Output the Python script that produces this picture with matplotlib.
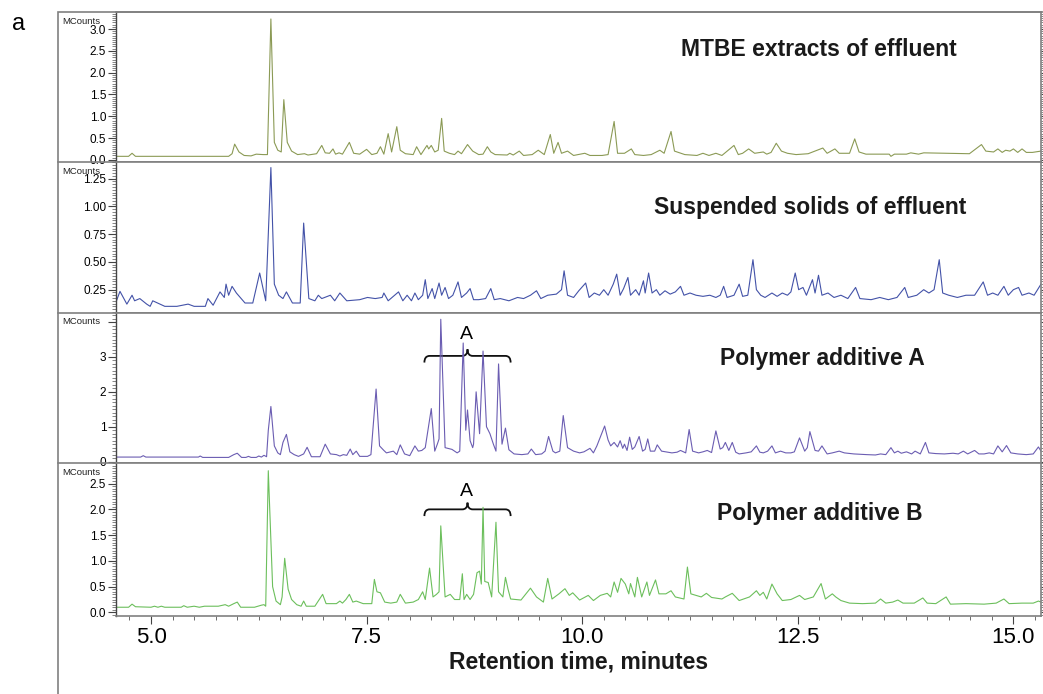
import matplotlib
matplotlib.use("Agg")
import matplotlib.pyplot as plt
from matplotlib import font_manager
from matplotlib.path import Path
from matplotlib.patches import PathPatch, Rectangle
from matplotlib.lines import Line2D
from matplotlib.ticker import MultipleLocator

# chromatogram traces (time in minutes, intensity in MCounts)
mtbe_t = [4.59, 4.74, 4.78, 4.82, 5.90, 5.94, 5.97, 6.02, 6.08, 6.16, 6.22, 6.30, 6.35, 6.39, 6.43,
          6.47, 6.51, 6.54, 6.58, 6.63, 6.70, 6.78, 6.82, 6.92, 6.98, 7.02, 7.07, 7.11, 7.14, 7.18,
          7.22, 7.30, 7.35, 7.42, 7.50, 7.56, 7.62, 7.66, 7.70, 7.75, 7.79, 7.85, 7.89, 7.95, 8.00,
          8.04, 8.08, 8.13, 8.20, 8.22, 8.25, 8.29, 8.33, 8.37, 8.40, 8.46, 8.52, 8.56, 8.60, 8.67,
          8.73, 8.80, 8.85, 8.90, 8.94, 8.99, 9.13, 9.16, 9.20, 9.27, 9.32, 9.42, 9.49, 9.56, 9.63,
          9.67, 9.72, 9.76, 9.83, 9.90, 10.03, 10.09, 10.23, 10.30, 10.37, 10.41, 10.49, 10.57, 10.61,
          10.71, 10.80, 10.90, 10.95, 11.03, 11.07, 11.19, 11.33, 11.40, 11.47, 11.55, 11.62, 11.76,
          11.81, 11.86, 11.93, 12.00, 12.10, 12.14, 12.19, 12.25, 12.31, 12.38, 12.48, 12.62, 12.79,
          12.84, 12.93, 12.98, 13.10, 13.16, 13.21, 13.29, 13.56, 13.58, 13.62, 13.76, 13.81, 13.90,
          13.96, 14.49, 14.63, 14.68, 14.77, 14.82, 14.87, 14.91, 14.96, 15.00, 15.05, 15.10, 15.15,
          15.22, 15.32]
mtbe_v = [0.08, 0.08, 0.15, 0.08, 0.08, 0.14, 0.36, 0.18, 0.10, 0.09, 0.13, 0.12, 0.12, 3.23, 0.40,
          0.22, 0.18, 1.38, 0.40, 0.20, 0.12, 0.14, 0.11, 0.14, 0.33, 0.16, 0.15, 0.25, 0.13, 0.16,
          0.13, 0.40, 0.15, 0.13, 0.24, 0.12, 0.15, 0.30, 0.13, 0.60, 0.18, 0.76, 0.22, 0.14, 0.13,
          0.12, 0.30, 0.12, 0.33, 0.25, 0.33, 0.18, 0.22, 0.95, 0.20, 0.15, 0.12, 0.20, 0.14, 0.35,
          0.20, 0.12, 0.13, 0.30, 0.18, 0.12, 0.11, 0.15, 0.11, 0.20, 0.10, 0.12, 0.22, 0.12, 0.58,
          0.15, 0.40, 0.15, 0.20, 0.10, 0.15, 0.10, 0.10, 0.12, 0.88, 0.15, 0.15, 0.25, 0.12, 0.10,
          0.12, 0.22, 0.15, 0.65, 0.20, 0.12, 0.10, 0.15, 0.10, 0.15, 0.10, 0.33, 0.12, 0.15, 0.25,
          0.15, 0.18, 0.13, 0.17, 0.38, 0.20, 0.15, 0.12, 0.14, 0.27, 0.15, 0.25, 0.15, 0.15, 0.48,
          0.18, 0.13, 0.13, 0.08, 0.13, 0.13, 0.16, 0.13, 0.16, 0.14, 0.35, 0.20, 0.18, 0.25, 0.17,
          0.22, 0.20, 0.25, 0.17, 0.25, 0.17, 0.17, 0.20]

solids_t = [4.59, 4.64, 4.72, 4.78, 4.81, 4.87, 4.95, 4.99, 5.02, 5.16, 5.30, 5.43, 5.50, 5.63, 5.66,
            5.72, 5.80, 5.85, 5.87, 5.90, 5.94, 5.99, 6.09, 6.18, 6.26, 6.33, 6.39, 6.43, 6.48, 6.53,
            6.57, 6.64, 6.73, 6.77, 6.83, 6.90, 6.94, 6.98, 7.08, 7.13, 7.19, 7.27, 7.42, 7.51, 7.60,
            7.68, 7.70, 7.75, 7.87, 7.92, 7.97, 8.02, 8.06, 8.10, 8.15, 8.18, 8.21, 8.26, 8.29, 8.34,
            8.37, 8.41, 8.45, 8.50, 8.56, 8.60, 8.66, 8.70, 8.74, 8.80, 8.88, 8.94, 8.98, 9.05, 9.15,
            9.25, 9.32, 9.40, 9.47, 9.52, 9.60, 9.70, 9.76, 9.79, 9.83, 9.90, 9.96, 10.04, 10.08,
            10.14, 10.20, 10.25, 10.30, 10.36, 10.40, 10.44, 10.48, 10.53, 10.56, 10.62, 10.66, 10.71,
            10.73, 10.77, 10.81, 10.86, 10.90, 10.96, 11.02, 11.08, 11.14, 11.18, 11.25, 11.32, 11.40,
            11.48, 11.55, 11.60, 11.64, 11.68, 11.76, 11.82, 11.86, 11.92, 11.98, 12.02, 12.07, 12.12,
            12.20, 12.26, 12.32, 12.38, 12.42, 12.47, 12.51, 12.56, 12.60, 12.67, 12.70, 12.74, 12.78,
            12.85, 12.92, 13.00, 13.08, 13.17, 13.22, 13.35, 13.45, 13.55, 13.65, 13.74, 13.78, 13.88,
            13.96, 14.02, 14.08, 14.14, 14.18, 14.25, 14.35, 14.45, 14.55, 14.65, 14.70, 14.76, 14.82,
            14.89, 14.94, 15.00, 15.06, 15.10, 15.18, 15.24, 15.32]
solids_v = [0.13, 0.235, 0.12, 0.20, 0.15, 0.17, 0.12, 0.10, 0.15, 0.10, 0.10, 0.12, 0.10, 0.10, 0.17,
            0.11, 0.23, 0.18, 0.30, 0.20, 0.28, 0.22, 0.13, 0.13, 0.40, 0.15, 1.35, 0.30, 0.20, 0.17,
            0.23, 0.13, 0.13, 0.85, 0.17, 0.15, 0.20, 0.17, 0.20, 0.15, 0.22, 0.15, 0.16, 0.18, 0.17,
            0.18, 0.22, 0.15, 0.23, 0.15, 0.20, 0.15, 0.22, 0.16, 0.20, 0.34, 0.17, 0.26, 0.17, 0.31,
            0.20, 0.27, 0.17, 0.20, 0.32, 0.18, 0.22, 0.26, 0.16, 0.16, 0.17, 0.26, 0.16, 0.17, 0.15,
            0.18, 0.17, 0.20, 0.24, 0.17, 0.20, 0.21, 0.25, 0.42, 0.20, 0.18, 0.24, 0.31, 0.18,
            0.22, 0.20, 0.25, 0.20, 0.30, 0.39, 0.20, 0.26, 0.36, 0.20, 0.25, 0.20, 0.33,
            0.22, 0.40, 0.22, 0.25, 0.20, 0.24, 0.21, 0.23, 0.28, 0.20, 0.22, 0.20, 0.19,
            0.20, 0.18, 0.20, 0.28, 0.18, 0.20, 0.30, 0.19, 0.20, 0.52, 0.25, 0.20, 0.18,
            0.22, 0.19, 0.22, 0.20, 0.23, 0.40, 0.25, 0.27, 0.20, 0.34, 0.22, 0.38, 0.20,
            0.22, 0.18, 0.20, 0.17, 0.27, 0.17, 0.16, 0.18, 0.16, 0.18, 0.27, 0.18, 0.20,
            0.25, 0.22, 0.25, 0.52, 0.22, 0.20, 0.18, 0.20, 0.20, 0.32, 0.20, 0.22, 0.20,
            0.28, 0.20, 0.25, 0.27, 0.20, 0.22, 0.20, 0.30]

polyA_t = [4.59, 4.88, 4.91, 4.94, 5.55, 5.57, 5.60, 5.90, 5.96, 6.00, 6.05, 6.10, 6.13, 6.16, 6.22,
           6.25, 6.28, 6.31, 6.34, 6.36, 6.39, 6.43, 6.47, 6.50, 6.53, 6.57, 6.61, 6.66, 6.71, 6.77,
           6.81, 6.86, 6.96, 7.02, 7.08, 7.15, 7.19, 7.23, 7.27, 7.31, 7.34, 7.38, 7.42, 7.51, 7.55,
           7.61, 7.65, 7.70, 7.73, 7.81, 7.85, 7.89, 7.94, 8.00, 8.06, 8.10, 8.14, 8.18, 8.25, 8.29,
           8.32, 8.34, 8.36, 8.41, 8.49, 8.55, 8.58, 8.62, 8.65, 8.67, 8.70, 8.73, 8.74, 8.77, 8.81,
           8.85, 8.89, 8.93, 8.97, 9.00, 9.03, 9.07, 9.11, 9.15, 9.21, 9.30, 9.37, 9.41, 9.46, 9.53,
           9.57, 9.61, 9.66, 9.69, 9.74, 9.78, 9.83, 9.90, 9.97, 10.02, 10.09, 10.13, 10.17, 10.21,
           10.26, 10.30, 10.33, 10.37, 10.41, 10.44, 10.47, 10.49, 10.52, 10.55, 10.58, 10.61, 10.66,
           10.70, 10.73, 10.76, 10.79, 10.84, 10.87, 10.92, 10.97, 11.04, 11.10, 11.14, 11.20, 11.24,
           11.28, 11.35, 11.40, 11.45, 11.50, 11.55, 11.60, 11.63, 11.66, 11.70, 11.74, 11.78, 11.82,
           11.90, 11.96, 12.02, 12.06, 12.10, 12.15, 12.20, 12.24, 12.30, 12.36, 12.42, 12.46, 12.52,
           12.58, 12.61, 12.64, 12.70, 12.74, 12.78, 12.84, 12.90, 12.98, 13.04, 13.15, 13.30, 13.40,
           13.46, 13.52, 13.58, 13.62, 13.66, 13.70, 13.76, 13.82, 13.86, 13.92, 13.98, 14.02, 14.10,
           14.20, 14.30, 14.36, 14.42, 14.47, 14.55, 14.60, 14.66, 14.72, 14.77, 14.82, 14.87, 14.92,
           14.97, 15.05, 15.15, 15.23, 15.29, 15.32]
polyA_v = [0.13, 0.13, 0.17, 0.13, 0.13, 0.16, 0.12, 0.12, 0.20, 0.24, 0.12, 0.12, 0.15, 0.12, 0.12,
           0.16, 0.13, 0.18, 0.14, 0.90, 1.58, 0.45, 0.25, 0.20, 0.55, 0.78, 0.28, 0.20, 0.15, 0.22,
           0.41, 0.14, 0.14, 0.50, 0.22, 0.20, 0.16, 0.20, 0.18, 0.36, 0.20, 0.30, 0.15, 0.15, 0.20,
           2.08, 0.45, 0.32, 0.25, 0.30, 0.20, 0.48, 0.22, 0.17, 0.45, 0.30, 0.32, 0.40, 1.52, 0.30,
           0.50, 0.65, 4.08, 0.40, 0.35, 0.25, 0.30, 3.40, 0.90, 1.48, 0.60, 0.40, 0.50, 2.00, 0.80,
           3.17, 1.00, 0.80, 0.50, 0.30, 2.80, 0.50, 0.96, 0.34, 0.22, 0.20, 0.22, 0.36, 0.20, 0.22,
           0.30, 0.72, 0.30, 0.25, 0.30, 1.32, 0.40, 0.30, 0.25, 0.28, 0.38, 0.25, 0.45, 0.70,
           1.02, 0.62, 0.45, 0.55, 0.42, 0.60, 0.38, 0.50, 0.32, 0.70, 0.35, 0.42, 0.72,
           0.30, 0.35, 0.65, 0.30, 0.30, 0.48, 0.30, 0.28, 0.25, 0.27, 0.32, 0.25, 0.92,
           0.30, 0.25, 0.28, 0.32, 0.26, 0.88, 0.36, 0.40, 0.55, 0.32, 0.55, 0.27, 0.22,
           0.25, 0.28, 0.45, 0.27, 0.25, 0.30, 0.45, 0.25, 0.30, 0.25, 0.25, 0.28, 0.68,
           0.30, 0.40, 0.86, 0.32, 0.30, 0.45, 0.22, 0.25, 0.30, 0.25, 0.22, 0.20, 0.19,
           0.22, 0.20, 0.40, 0.25, 0.30, 0.24, 0.28, 0.22, 0.30, 0.22, 0.55, 0.25, 0.23,
           0.22, 0.24, 0.22, 0.30, 0.22, 0.32, 0.22, 0.22, 0.25, 0.22, 0.45, 0.28, 0.46,
           0.25, 0.22, 0.20, 0.22, 0.42, 0.30]

polyB_t = [4.59, 4.74, 4.78, 4.82, 5.00, 5.04, 5.08, 5.12, 5.16, 5.35, 5.38, 5.42, 5.50, 5.56, 5.62,
           5.70, 5.78, 5.86, 5.90, 5.96, 6.00, 6.04, 6.20, 6.28, 6.31, 6.33, 6.36, 6.41, 6.45, 6.50,
           6.52, 6.55, 6.59, 6.63, 6.69, 6.74, 6.77, 6.80, 6.90, 6.99, 7.03, 7.15, 7.19, 7.22, 7.26,
           7.30, 7.34, 7.38, 7.46, 7.56, 7.59, 7.62, 7.66, 7.71, 7.78, 7.85, 7.89, 7.95, 8.04, 8.10,
           8.15, 8.18, 8.23, 8.27, 8.31, 8.34, 8.36, 8.41, 8.47, 8.52, 8.58, 8.61, 8.63, 8.66, 8.70,
           8.74, 8.78, 8.81, 8.83, 8.85, 8.87, 8.91, 8.95, 9.00, 9.03, 9.08, 9.11, 9.14, 9.17, 9.29,
           9.40, 9.47, 9.55, 9.60, 9.65, 9.73, 9.80, 9.85, 9.89, 9.97, 10.07, 10.13, 10.21, 10.29,
           10.33, 10.37, 10.41, 10.45, 10.50, 10.54, 10.56, 10.61, 10.64, 10.69, 10.75, 10.78, 10.85,
           10.89, 10.97, 11.03, 11.08, 11.18, 11.22, 11.26, 11.32, 11.38, 11.44, 11.50, 11.62, 11.66,
           11.74, 11.82, 11.94, 12.02, 12.06, 12.10, 12.14, 12.20, 12.26, 12.32, 12.42, 12.52, 12.58,
           12.68, 12.77, 12.82, 12.90, 12.94, 13.00, 13.10, 13.25, 13.40, 13.46, 13.52, 13.60, 13.66,
           13.72, 13.85, 13.95, 14.00, 14.10, 14.22, 14.27, 14.45, 14.66, 14.80, 14.89, 14.95, 15.10,
           15.23, 15.29, 15.32]
polyB_v = [0.10, 0.10, 0.16, 0.11, 0.10, 0.12, 0.10, 0.12, 0.10, 0.10, 0.13, 0.10, 0.12, 0.10, 0.12,
           0.12, 0.12, 0.15, 0.12, 0.17, 0.20, 0.10, 0.10, 0.14, 0.15, 0.12, 2.75, 0.50, 0.22, 0.15,
           0.30, 1.05, 0.45, 0.25, 0.15, 0.12, 0.22, 0.12, 0.12, 0.35, 0.17, 0.17, 0.22, 0.18, 0.25,
           0.35, 0.20, 0.22, 0.17, 0.17, 0.64, 0.40, 0.38, 0.20, 0.18, 0.20, 0.35, 0.18, 0.20, 0.25,
           0.40, 0.25, 0.86, 0.30, 0.35, 0.40, 1.68, 0.30, 0.35, 0.25, 0.25, 0.75, 0.25, 0.35, 0.25,
           0.35, 0.77, 0.80, 0.55, 2.04, 0.60, 0.58, 0.30, 1.75, 0.40, 0.30, 0.68, 0.45, 0.26, 0.24,
           0.47, 0.30, 0.20, 0.66, 0.26, 0.36, 0.46, 0.33, 0.38, 0.24, 0.33, 0.23, 0.33, 0.37,
           0.30, 0.59, 0.39, 0.66, 0.55, 0.36, 0.56, 0.30, 0.68, 0.30, 0.59, 0.33, 0.63,
           0.36, 0.36, 0.42, 0.30, 0.26, 0.88, 0.36, 0.33, 0.30, 0.37, 0.29, 0.26, 0.30,
           0.37, 0.23, 0.30, 0.42, 0.33, 0.39, 0.26, 0.55, 0.36, 0.23, 0.25, 0.33, 0.25,
           0.30, 0.56, 0.26, 0.36, 0.30, 0.23, 0.18, 0.17, 0.18, 0.26, 0.18, 0.20, 0.24,
           0.18, 0.18, 0.28, 0.18, 0.17, 0.30, 0.16, 0.17, 0.16, 0.18, 0.26, 0.17, 0.18,
           0.18, 0.22, 0.20]

titles = ["MTBE extracts of effluent", "Suspended solids of effluent",
          "Polymer additive A", "Polymer additive B"]
colors = ["#8b9a55", "#4352a8", "#6b5db2", "#6cbf5c"]
ylims = [(-0.05, 3.39), (0.04, 1.40), (-0.04, 4.26), (-0.07, 2.90)]
ymajor = [0.5, 0.25, 1.0, 0.5]
yminor = [0.05, 0.025, 0.1, 0.05]
title_pos = [(0.76, 0.753), (0.75, 0.70), (0.764, 0.70), (0.761, 0.673)]

plt.rcParams["font.family"] = ["Liberation Sans", "DejaVu Sans"]

W, H = 1043, 694
fig = plt.figure(figsize=(W / 100, H / 100), dpi=100)

# panel boxes in pixels: (top, bottom)
panels = [(12, 162), (162, 313), (313, 463), (463, 616)]
left_px, right_px = 116, 1041
frame = "#808080"

traces = [(mtbe_t, mtbe_v), (solids_t, solids_v), (polyA_t, polyA_v), (polyB_t, polyB_v)]
axes = []
for i, (top, bot) in enumerate(panels):
    ax = fig.add_axes([left_px / W, 1 - bot / H, (right_px - left_px) / W, (bot - top) / H])
    t, v = traces[i]
    ax.plot(t, v, color=colors[i], lw=0.8)
    ax.set_xlim(4.594, 15.32)
    ax.set_ylim(*ylims[i])
    for s in ax.spines.values():
        s.set_color(frame)
        s.set_linewidth(1.2)
    ax.spines["left"].set_color("#444444")
    ax.spines["left"].set_linewidth(1.0)
    ax.yaxis.set_major_locator(MultipleLocator(ymajor[i]))
    ax.yaxis.set_minor_locator(MultipleLocator(yminor[i]))
    ax.tick_params(axis="y", which="major", direction="out", length=6, width=0.8,
                   labelsize=8.5, pad=1, color="#444444", right=True)
    ax.tick_params(axis="y", which="minor", direction="out", length=3, width=0.5,
                   color="#555555", right=True)
    ax.tick_params(axis="y", which="both", labelright=False)
    ax.text(title_pos[i][0], title_pos[i][1], titles[i], transform=ax.transAxes,
            ha="center", va="center", fontsize=16.5, fontweight="bold", color="#1a1a1a")
    ax.text(-0.058, 0.94, "MCounts", transform=ax.transAxes, ha="left", va="center",
            fontsize=6.8, color="#222222")
    axes.append(ax)

# y tick label formatting to match the chromatogram software
axes[0].set_yticks([0.0, 0.5, 1.0, 1.5, 2.0, 2.5, 3.0])
axes[0].set_yticklabels(["0.0", "0.5", "1.0", "1.5", "2.0", "2.5", "3.0"])
axes[1].set_yticks([0.25, 0.5, 0.75, 1.0, 1.25])
axes[1].set_yticklabels(["0.25", "0.50", "0.75", "1.00", "1.25"])
axes[2].set_yticks([0, 1, 2, 3, 4])
axes[2].set_yticklabels(["0", "1", "2", "3", ""])
axes[3].set_yticks([0.0, 0.5, 1.0, 1.5, 2.0, 2.5])
axes[3].set_yticklabels(["0.0", "0.5", "1.0", "1.5", "2.0", "2.5"])

for ax in axes[:3]:
    ax.tick_params(axis="x", which="both", bottom=False, labelbottom=False)

bx = axes[3]
bx.xaxis.set_minor_locator(MultipleLocator(0.25))
bx.set_xticks([5.0, 7.5, 10.0, 12.5, 15.0])
bx.set_xticklabels(["5.0", "7.5", "10.0", "12.5", "15.0"], fontsize=16)
bx.tick_params(axis="x", which="major", direction="out", length=6, width=0.8, color="#444444", pad=2)
bx.tick_params(axis="x", which="minor", direction="out", length=3, width=0.6, color="#555555")
bx.set_xlabel("Retention time, minutes", fontweight="bold", fontsize=16.5, labelpad=2,
              color="#1a1a1a")


def brace(ax, x0, x1, y, h, dx):
    xm = (x0 + x1) / 2
    verts = [(x0, y - h), (x0, y), (x0 + dx, y), (xm - dx, y), (xm, y), (xm, y + h),
             (xm, y), (xm + dx, y), (x1 - dx, y), (x1, y), (x1, y - h)]
    codes = [Path.MOVETO, Path.CURVE3, Path.CURVE3, Path.LINETO, Path.CURVE3, Path.CURVE3,
             Path.CURVE3, Path.CURVE3, Path.LINETO, Path.CURVE3, Path.CURVE3]
    ax.add_patch(PathPatch(Path(verts, codes), fill=False, lw=1.3, color="#111111"))


brace(axes[2], 8.17, 9.17, 3.03, 0.19, 0.06)
axes[2].text(8.66, 3.65, "A", ha="center", va="center", fontsize=14)
brace(axes[3], 8.17, 9.17, 2.0, 0.13, 0.06)
axes[3].text(8.66, 2.34, "A", ha="center", va="center", fontsize=14)

# outer picture frame and left-side panel separators
fig.patches.append(Rectangle((58 / W, -0.05), 1.0, 1 - 12 / H + 0.05, transform=fig.transFigure,
                             fill=False, edgecolor=frame, lw=1.2))
for y in [162, 313, 463]:
    fig.lines.append(Line2D([58 / W, left_px / W], [1 - y / H, 1 - y / H], transform=fig.transFigure,
                            color=frame, lw=1.2))

fig.text(18.5 / W, 1 - 24 / H, "a", ha="center", va="center", fontsize=17)

fig.savefig("out.png", dpi=100)
